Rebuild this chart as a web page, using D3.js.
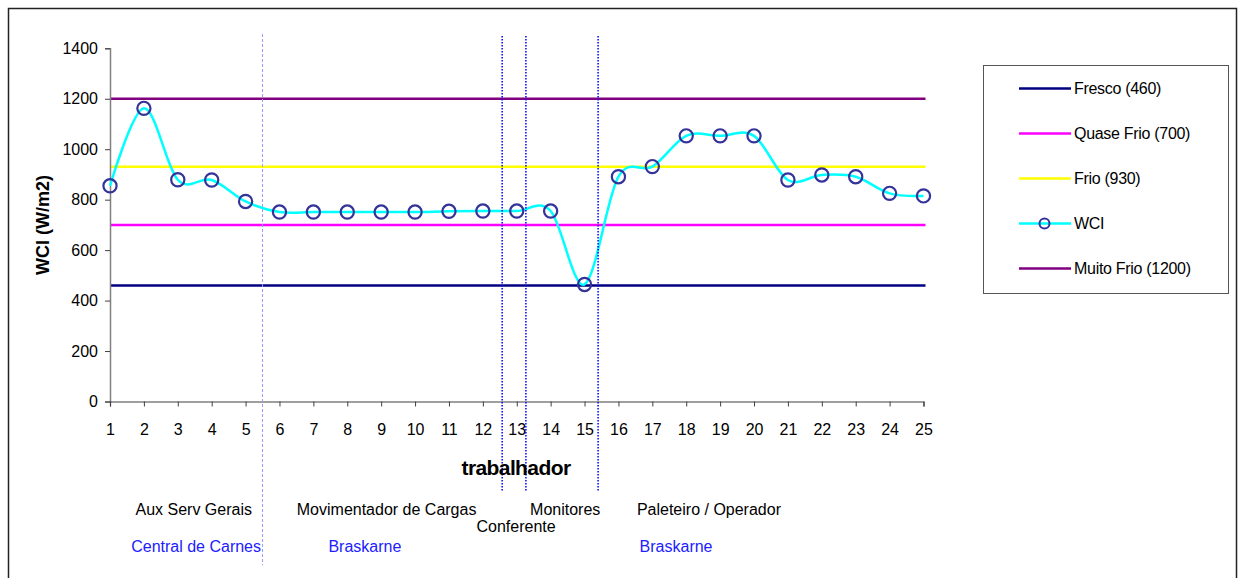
<!DOCTYPE html>
<html>
<head>
<meta charset="utf-8">
<script src="https://cdn.jsdelivr.net/npm/d3@7"></script>
<style>
  html, body { margin: 0; padding: 0; background: #fff; }
  svg { display: block; font-family: "Liberation Sans", Arial, sans-serif; }
</style>
</head>
<body>
<svg id="chart" width="1242" height="578"></svg>
<script>
// ---- data ----
const workers = d3.range(1, 26);
const wci = [855, 1162, 879, 878, 793, 751, 751, 751, 751, 751, 754, 755, 755, 755,
             464, 891, 931, 1053, 1053, 1053, 878, 898, 891, 825, 815];
const thresholdNames = ["Fresco (460)", "Quase Frio (700)", "Frio (930)", "Muito Frio (1200)"];
const thresholdValues = [460, 700, 930, 1200];
const thresholdColors = ["#000080", "#ff00ff", "#ffff00", "#800080"];
const yTicks = [0, 200, 400, 600, 800, 1000, 1200, 1400];
const legendNames = ["Fresco (460)", "Quase Frio (700)", "Frio (930)", "WCI", "Muito Frio (1200)"];
const separators = [5.5, 12.57, 13.27, 15.4];
const jobLabels = ["Aux Serv Gerais", "Movimentador de Cargas", "Conferente", "Monitores", "Paleteiro / Operador"];
const jobCenters = [3.47, 9.16, 12.98, 14.43, 18.67];
const jobRow = [0, 0, 1, 0, 0];
const companyLabels = ["Central de Carnes", "Braskarne", "Braskarne"];
const companyCenters = [3.54, 8.52, 17.70];

// ---- layout ----
const svg = d3.select("#chart");
const x = d3.scaleLinear().domain([1, 25]).range([110, 923.5]);
const y = d3.scaleLinear().domain([0, 1400]).range([401.5, 48.3]);

// outer border (bottom edge outside view)
svg.append("rect").attr("x", 8.5).attr("y", 8.5).attr("width", 1228).attr("height", 600)
  .attr("fill", "none").attr("stroke", "#222").attr("stroke-width", 1.5);

// threshold lines
thresholdValues.forEach((v, i) => {
  svg.append("line")
    .attr("x1", x(1)).attr("x2", x(25) + 2)
    .attr("y1", y(v)).attr("y2", y(v))
    .attr("stroke", thresholdColors[i]).attr("stroke-width", 2.5);
});

// y axis
const yAxis = svg.append("g").attr("transform", `translate(${x(1)},0)`)
  .call(d3.axisLeft(y).tickValues(yTicks).tickSize(5).tickPadding(7).tickFormat(d3.format("d")));
yAxis.select(".domain").attr("stroke", "#808080").attr("stroke-width", 1.5);
yAxis.selectAll(".tick line").attr("stroke", "#404040");
yAxis.selectAll("text").attr("font-size", 16).attr("fill", "#000")
  .attr("font-family", "Liberation Sans, Arial, sans-serif");

// x axis
const xAxis = svg.append("g").attr("transform", `translate(0,${y(0)})`)
  .call(d3.axisBottom(x).tickValues(workers).tickSize(5).tickPadding(17.4).tickFormat(d3.format("d")));
xAxis.select(".domain").attr("stroke", "#404040").attr("stroke-width", 1.2);
xAxis.selectAll(".tick line").attr("stroke", "#404040");
xAxis.selectAll("text").attr("font-size", 16).attr("fill", "#000")
  .attr("font-family", "Liberation Sans, Arial, sans-serif");

// WCI line
const line = d3.line().x((d, i) => x(workers[i])).y(d => y(d)).curve(d3.curveCatmullRom.alpha(0));
svg.append("path").datum(wci).attr("d", line)
  .attr("fill", "none").attr("stroke", "#00ffff").attr("stroke-width", 2.5);
svg.selectAll("circle.mk").data(wci).enter().append("circle").attr("class", "mk")
  .attr("cx", (d, i) => x(workers[i])).attr("cy", d => y(d)).attr("r", 6.6)
  .attr("fill", "none").attr("stroke", "#333399").attr("stroke-width", 2.2);

// separators
svg.append("line").attr("x1", x(separators[0])).attr("x2", x(separators[0]))
  .attr("y1", 34).attr("y2", 565).attr("stroke", "#9999ff").attr("stroke-width", 1)
  .attr("stroke-dasharray", "3,2");
separators.slice(1).forEach(s => {
  svg.append("line").attr("x1", x(s)).attr("x2", x(s))
    .attr("y1", 36).attr("y2", 491).attr("stroke", "#0000ff").attr("stroke-width", 1.5)
    .attr("stroke-dasharray", "1.5,1.5");
});

// axis titles
svg.append("text").attr("x", 516).attr("y", 475).attr("text-anchor", "middle")
  .attr("font-size", 21).attr("font-weight", "bold").attr("letter-spacing", -0.6)
  .text("trabalhador");
svg.append("text").attr("transform", "translate(49,225) rotate(-90)").attr("text-anchor", "middle")
  .attr("font-size", 18).attr("font-weight", "bold").text("WCI (W/m2)");

// job and company annotations
jobLabels.forEach((t, i) => {
  svg.append("text").attr("x", x(jobCenters[i])).attr("y", jobRow[i] ? 532 : 515)
    .attr("text-anchor", "middle").attr("font-size", 16).attr("fill", "#000").text(t);
});
companyLabels.forEach((t, i) => {
  svg.append("text").attr("x", x(companyCenters[i])).attr("y", 551.5)
    .attr("text-anchor", "middle").attr("font-size", 16).attr("fill", "#2020ff").text(t);
});

// legend
svg.append("rect").attr("x", 983.5).attr("y", 65.5).attr("width", 245).attr("height", 228)
  .attr("fill", "#fff").attr("stroke", "#555").attr("stroke-width", 1);
const legendColors = ["#000080", "#ff00ff", "#ffff00", "#00ffff", "#800080"];
legendNames.forEach((n, i) => {
  const ly = 88.5 + i * 45;
  svg.append("line").attr("x1", 1019).attr("x2", 1071).attr("y1", ly).attr("y2", ly)
    .attr("stroke", legendColors[i]).attr("stroke-width", 2.5);
  if (n === "WCI") {
    svg.append("circle").attr("cx", 1044.5).attr("cy", ly).attr("r", 5)
      .attr("fill", "none").attr("stroke", "#333399").attr("stroke-width", 2);
  }
  svg.append("text").attr("x", 1074).attr("y", ly).attr("dy", "0.35em")
    .attr("font-size", 16).attr("letter-spacing", -0.3).text(n);
});
</script>
</body>
</html>
